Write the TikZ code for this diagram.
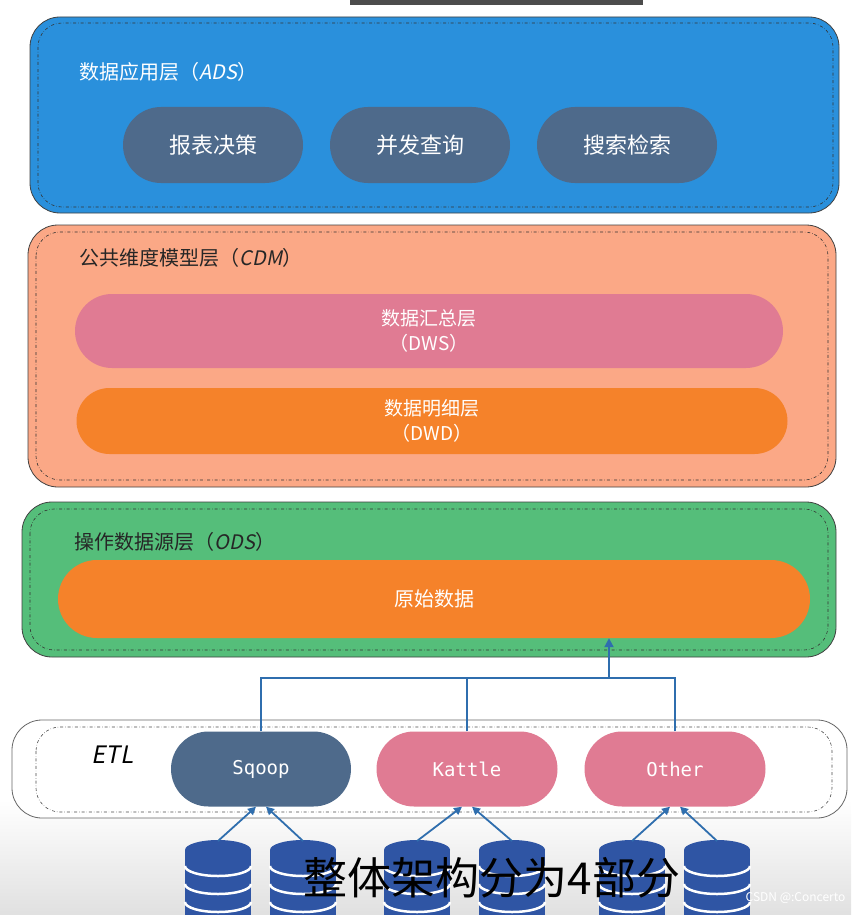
\documentclass[tikz,border=0pt]{standalone}
\usepackage{fontspec}
\setmainfont{Noto Sans CJK SC}
\newfontfamily\monof{DejaVu Sans Mono}
\newfontfamily\slantf[FakeSlant=0.2]{Noto Sans CJK SC}
\usetikzlibrary{arrows.meta,shapes.misc}
\definecolor{adsblue}{HTML}{2A90DC}
\definecolor{pillgray}{HTML}{4E6A8B}
\definecolor{cdmsalmon}{HTML}{FBA886}
\definecolor{pinkp}{HTML}{E07B93}
\definecolor{orangep}{HTML}{F5822A}
\definecolor{odsgreen}{HTML}{55BE7A}
\definecolor{arrowblue}{HTML}{2F6EAE}
\definecolor{dbblue}{HTML}{2F55A4}
\tikzset{
  layer/.style={draw=black!75,line width=0.8pt,rounded corners=30pt},
  innerdash/.style={draw=black!80,dash dot,line width=0.6pt,rounded corners=24pt},
  pill/.style={rounded rectangle,minimum height=#1,inner sep=0pt,text=white},
  conn/.style={draw=arrowblue,line width=2pt},
  ttl/.style={anchor=west,font=\fontsize{20}{24}\selectfont}
}
\begin{document}
\begin{tikzpicture}[x=1pt,y=-1pt]
\fill[white] (0,0) rectangle (851,915);
\shade[top color=white,bottom color=black!12] (0,800) rectangle (851,915);
\fill[black!70] (350,0) rectangle (643,5);
% ADS
\path[layer,fill=adsblue] (30,17) rectangle (839,213);
\path[innerdash] (38,23) rectangle (833,207);
\node[ttl,text=white] (adst) at (76,72) {数据应用层（{\slantf ADS}）};
\node[pill=76pt,minimum width=180pt,fill=pillgray,font=\fontsize{22}{26}\selectfont] (p1) at (213,145) {报表决策};
\node[pill=76pt,minimum width=180pt,fill=pillgray,font=\fontsize{22}{26}\selectfont] (p2) at (420,145) {并发查询};
\node[pill=76pt,minimum width=180pt,fill=pillgray,font=\fontsize{22}{26}\selectfont] (p3) at (627,145) {搜索检索};
% CDM
\path[layer,fill=cdmsalmon] (28,225) rectangle (836,487);
\path[innerdash] (36,232) rectangle (828,480);
\node[ttl,text=black!85] (cdmt) at (76,258) {公共维度模型层（{\slantf CDM}）};
\node[pill=74pt,minimum width=708pt,fill=pinkp,align=center,font=\fontsize{19}{25}\selectfont] (dws) at (429,331) {数据汇总层\\（DWS）};
\node[pill=66pt,minimum width=711pt,fill=orangep,align=center,font=\fontsize{19}{25}\selectfont] (dwd) at (432,421) {数据明细层\\（DWD）};
% ODS
\path[layer,fill=odsgreen] (22,502) rectangle (836,657);
\path[innerdash] (30,509) rectangle (828,650);
\node[ttl,text=black!85] (odst) at (71,542) {操作数据源层（{\slantf ODS}）};
\node[pill=78pt,minimum width=752pt,fill=orangep,font=\fontsize{20}{24}\selectfont] (raw) at (434,599) {原始数据};
% ETL
\path[layer,draw=black!60,fill=white] (12,720) rectangle (847,818);
\path[innerdash,draw=black!70] (36,727) rectangle (832,812);
\node[anchor=west,font=\slantf\fontsize{24}{28}\selectfont] (etl) at (88,755) {ETL};
\node[pill=75pt,minimum width=180pt,fill=pillgray,font=\monof\fontsize{19}{22}\selectfont] (sq) at (261,769) {Sqoop};
\node[pill=75pt,minimum width=181pt,fill=pinkp,font=\monof\fontsize{19}{22}\selectfont] (ka) at (467,769) {Kattle};
\node[pill=75pt,minimum width=181pt,fill=pinkp,font=\monof\fontsize{19}{22}\selectfont] (ot) at (675,769) {Other};
% connectors
\coordinate (j) at (609,678);
\draw[conn] (sq.north) |- (j);
\draw[conn] (ka.north) |- (j);
\draw[conn] (ot.north) |- (j);
\draw[conn,-{Triangle[length=9pt,width=9pt]}] (j) -- (raw.south -| j);
% databases
\foreach \n/\cx in {a/218,b/303,c/417,d/512,e/632,f/717}{
  \fill[dbblue] (\cx-33,850) rectangle (\cx+33,915);
  \foreach \yy in {866,884,902}{
    \draw[white,line width=2.5pt] (\cx-33,\yy) arc[start angle=180,end angle=360,x radius=33pt,y radius=10pt];
  }
  \fill[dbblue] (\cx,850) ellipse[x radius=33pt,y radius=10pt];
  \coordinate (db\n) at (\cx,841);
}
\foreach \n/\tg/\dx in {a/sq/-5,b/sq/5,c/ka/-5,d/ka/5,e/ot/-5,f/ot/5}{
  \draw[conn,line width=1.8pt,-{Triangle[length=8pt,width=8pt]}] (db\n) -- ([xshift=\dx pt]\tg.south);
}
\node[font=\fontsize{44}{48}\selectfont,text=black,anchor=center] (cap) at (492,878) {整体架构分为4部分};
\node[anchor=east,font=\fontsize{12}{14}\selectfont,text=white] (csdn) at (849,898) {CSDN @:Concerto};
\end{tikzpicture}
\end{document}
